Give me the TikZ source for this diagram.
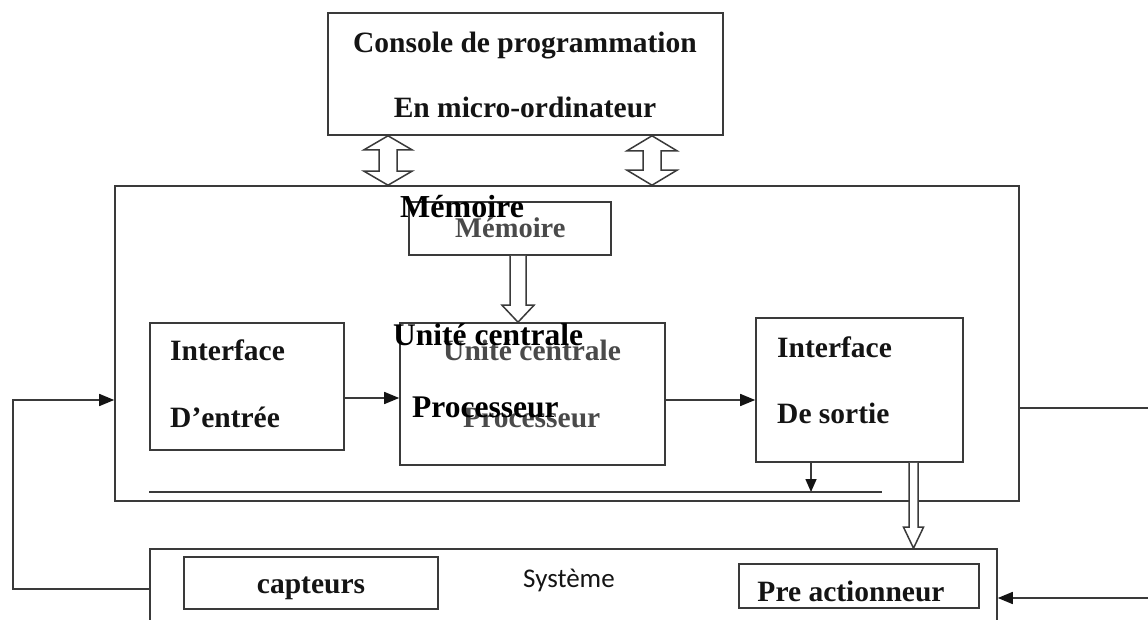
\documentclass[tikz,border=0pt]{standalone}
\usepackage{fontspec}
\setmainfont{Liberation Serif}
\newfontfamily\sysfont{Carlito}
\usetikzlibrary{arrows.meta,calc}
\definecolor{ink}{HTML}{141414}
\definecolor{wire}{HTML}{3A3A3A}
\definecolor{faded}{HTML}{4A4A4A}

% hollow bus arrow pointing down: {from}{to}{shaft half}{head half}{head length}
\newcommand{\busdown}[5]{%
  \draw[bus] let \p1=(#1), \p2=(#2) in
    (\x1-#3,\y1) -- (\x1-#3,\y2+#5) -- (\x1-#4,\y2+#5) -- (\x1,\y2)
    -- (\x1+#4,\y2+#5) -- (\x1+#3,\y2+#5) -- (\x1+#3,\y1);}
% hollow bus arrow with a head at both ends
\newcommand{\busboth}[5]{%
  \draw[bus] let \p1=(#1), \p2=(#2) in
    (\x1,\y1) -- (\x1+#4,\y1-#5) -- (\x1+#3,\y1-#5) -- (\x1+#3,\y2+#5)
    -- (\x1+#4,\y2+#5) -- (\x1,\y2) -- (\x1-#4,\y2+#5) -- (\x1-#3,\y2+#5)
    -- (\x1-#3,\y1-#5) -- (\x1-#4,\y1-#5) -- cycle;}

\begin{document}
\begin{tikzpicture}[x=1pt,y=-1pt]
  % Styles
  \tikzset{
    box/.style={draw=wire, line width=1.6pt, inner sep=0pt},
    lbl/.style={font=\fontsize{29.5}{35}\selectfont\bfseries, text=ink, inner sep=0pt},
    ghost/.style={font=\fontsize{29.5}{35}\selectfont\bfseries, text=faded, inner sep=0pt},
    over/.style={font=\fontsize{31.5}{37}\selectfont\bfseries, text=black, inner sep=0pt},
    line/.style={draw=wire, line width=1.6pt},
    arrow/.style={line, -{Triangle[length=15pt,width=12pt,fill=ink,color=ink]}},
    bus/.style={draw=wire, line width=1.5pt, fill=white, line join=miter},
  }
  \useasboundingbox (0,0) rectangle (1148,620);
  \clip (0,0) rectangle (1148,620);

  % Programming console
  \node[box, minimum width=395pt, minimum height=122pt] (console) at (525.5,74) {};
  \node[lbl, anchor=base] (con1) at (525,53) {Console de programmation};
  \node[lbl, anchor=base] (con2) at (525,118) {En micro-ordinateur};

  % Automate
  \node[box, minimum width=904pt, minimum height=315pt] (plc) at (567,343.5) {};
  \node[box, minimum width=202pt, minimum height=53pt] (memoire) at (510,228.5) {};
  \node[box, minimum width=265pt, minimum height=142pt] (uc) at (532.5,394) {};
  \node[box, minimum width=194pt, minimum height=127pt] (entree) at (247,386.5) {};
  \node[box, minimum width=207pt, minimum height=144pt] (sortie) at (859.5,390) {};

  \node[ghost, anchor=base west, font=\fontsize{28.5}{34}\selectfont\bfseries] (mem2) at (455,238) {Mémoire};
  \node[ghost, anchor=base west] (uc2a) at (443,360) {Unité centrale};
  \node[ghost, anchor=base west] (uc2b) at (463,427) {Processeur};
  \node[lbl, anchor=base west] (ent1) at (170,360) {Interface};
  \node[lbl, anchor=base west] (ent2) at (170,427) {D’entrée};
  \node[lbl, anchor=base west] (sor1) at (777,357) {Interface};
  \node[lbl, anchor=base west] (sor2) at (777,423) {De sortie};

  % labels printed on top
  \node[over, anchor=base west, font=\fontsize{32}{38}\selectfont\bfseries] (mem1) at (400,218) {Mémoire};
  \node[over, anchor=base west] (uc1a) at (393,345) {Unité centrale};
  \node[over, anchor=base west] (uc1b) at (412,417) {Processeur};

  % Systeme
  \node[box, minimum width=847pt, minimum height=120pt] (systeme) at (573.5,609) {};
  \node[box, minimum width=254pt, minimum height=52pt] (capteurs) at (311,583) {};
  \node[box, minimum width=240pt, minimum height=44pt] (preact) at (859,586) {};
  \node[lbl, anchor=base] (capt) at (311,593) {capteurs};
  \node[lbl, anchor=base] (pre) at (851,601) {Pre actionneur};
  \node[anchor=base west, inner sep=0pt, text=ink, font=\fontsize{27}{32}\sysfont] (sys) at (523,587) {Système};

  % Buses
  \busboth{388,0 |- console.south}{388,0 |- plc.north}{9pt}{24pt}{14pt}
  \busboth{652,0 |- console.south}{652,0 |- plc.north}{9pt}{25pt}{15pt}
  \busdown{518,0 |- memoire.south}{518,0 |- uc.north}{8pt}{16pt}{17pt}

  % Signals
  \draw[arrow] (entree.east |- 0,398) -- (uc.west |- 0,398);
  \draw[arrow] (uc.east |- 0,400) -- (sortie.west |- 0,400);
  \draw[arrow, -{Triangle[length=13pt,width=11pt,fill=ink,color=ink]}] (811,0 |- sortie.south) -- (811,492);
  \draw[line] (entree.west |- 0,492) -- (882,492);
  \draw[arrow] (systeme.west |- 0,589) -- (13,589) -- (13,400) -- (plc.west |- 0,400);
  \draw[line] (plc.east |- 0,408) -- (1148,408);
  \draw[arrow] (1148,598) -- (systeme.east |- 0,598);
  \busdown{913.5,0 |- sortie.south}{913.5,0 |- systeme.north}{4.5pt}{10pt}{21pt}
\end{tikzpicture}
\end{document}
